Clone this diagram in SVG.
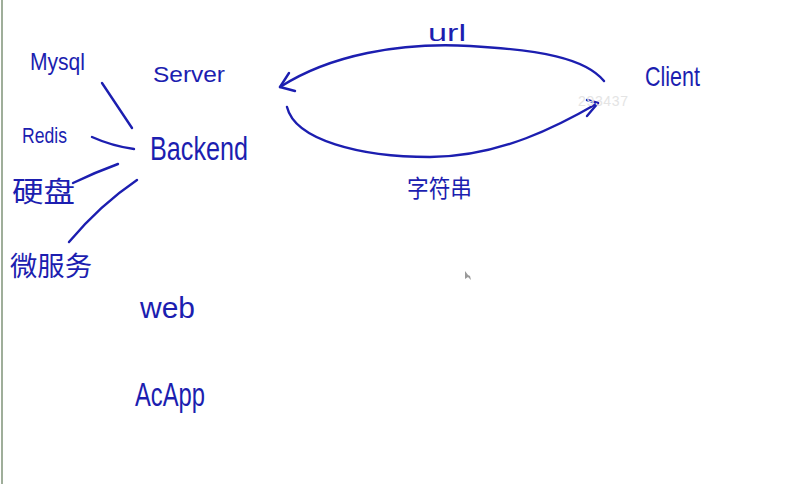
<svg xmlns="http://www.w3.org/2000/svg" width="803" height="484" viewBox="0 0 803 484">
  <style>
    .t { fill: #1c1eb0; font-family: "Liberation Sans", "Noto Sans CJK SC", sans-serif; }
    .cjk { fill: #1c1eb0; font-family: "Noto Sans CJK SC", sans-serif; font-weight: 400; }
    .ln { fill: none; stroke: #1c1eb0; stroke-width: 2.4; stroke-linecap: round; stroke-linejoin: round; }
  </style>
  <rect width="803" height="484" fill="#ffffff"/>
  <line x1="2" y1="0" x2="2" y2="484" stroke="#9fae9a" stroke-width="2"/>

  <g id="mysql"><text class="t" x="30" y="70" font-size="24" textLength="55" lengthAdjust="spacingAndGlyphs">Mysql</text></g>
  <g id="server"><text class="t" x="153" y="82" font-size="22" textLength="72" lengthAdjust="spacingAndGlyphs">Server</text></g>
  <g id="redis"><text class="t" x="22" y="143" font-size="22" textLength="45" lengthAdjust="spacingAndGlyphs">Redis</text></g>
  <g id="backend"><text class="t" x="150" y="160" font-size="34" textLength="98" lengthAdjust="spacingAndGlyphs">Backend</text></g>
  <g id="disk"><text class="cjk" x="12" y="202" font-size="28" textLength="63" lengthAdjust="spacingAndGlyphs">硬盘</text></g>
  <g id="microservice"><text class="cjk" x="10" y="276" font-size="27" textLength="82" lengthAdjust="spacingAndGlyphs">微服务</text></g>
  <g id="web"><text class="t" x="140" y="318" font-size="30" textLength="55" lengthAdjust="spacingAndGlyphs">web</text></g>
  <g id="acapp"><text class="t" x="135" y="406" font-size="34" textLength="70" lengthAdjust="spacingAndGlyphs">AcApp</text></g>
  <g id="client"><text class="t" x="645" y="86" font-size="28" textLength="55" lengthAdjust="spacingAndGlyphs">Client</text></g>

  <g id="connectors">
    <path class="ln" d="M102,83 L132,128"/>
    <path class="ln" d="M92,137 Q112,146 134,149"/>
    <path class="ln" d="M73,183 Q96,172 118,164"/>
    <path class="ln" d="M69,242 Q100,205 137,180"/>
    <path class="ln" d="M604,81 C585,58 540,50 470,46 C400,42 330,55 280,87"/>
    <path class="ln" d="M289,73 L280,87 L295,91"/>
    <path class="ln" d="M287,107 C295,140 360,157 430,157 C500,157 560,125 598,103"/>
    <path class="ln" d="M587,100 L598,103 L587,116"/>
    <text class="t" x="428" y="41" font-size="24" textLength="38" lengthAdjust="spacingAndGlyphs">url</text>
    <text class="cjk" x="407" y="197" font-size="24" textLength="65" lengthAdjust="spacingAndGlyphs">字符串</text>
  </g>

  <text x="578" y="106" font-family="Liberation Sans, sans-serif" font-size="14" fill="#e4e4e4" textLength="50">293437</text>
  <path d="M465,271 L465,279 L468,277 L471,280 L470,276 L468,275 Z" fill="#9a9a9a"/>
</svg>
